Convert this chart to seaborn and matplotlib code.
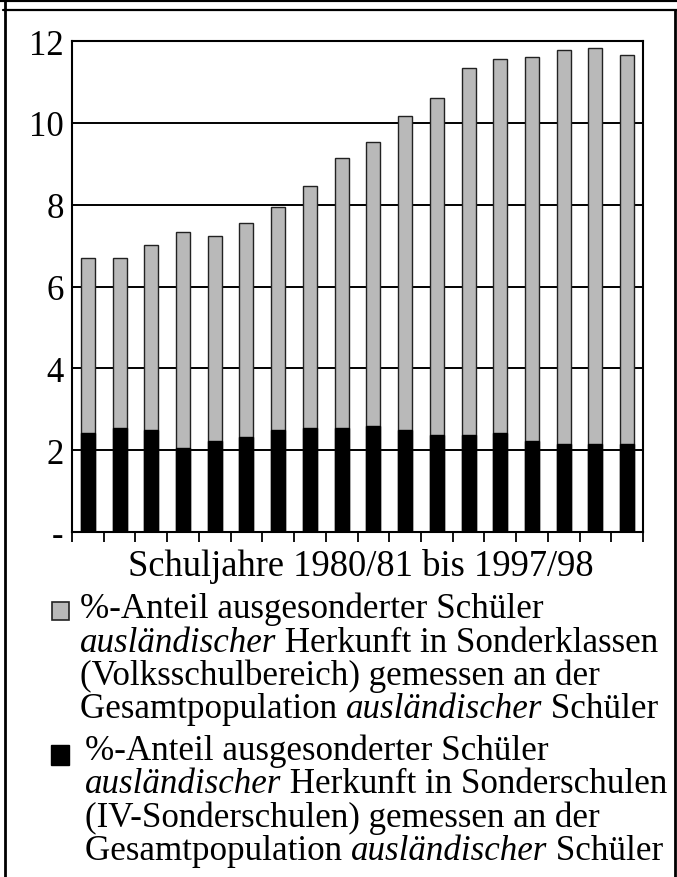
import numpy as np
import pandas as pd
import matplotlib
matplotlib.use("Agg")
import matplotlib.pyplot as plt
import seaborn as sns
from matplotlib.patches import Rectangle
from matplotlib.lines import Line2D

# ---- data ----
years = ["80/81", "81/82", "82/83", "83/84", "84/85", "85/86", "86/87", "87/88", "88/89",
         "89/90", "90/91", "91/92", "92/93", "93/94", "94/95", "95/96", "96/97", "97/98"]
sonderschulen = [2.43, 2.54, 2.49, 2.06, 2.22, 2.33, 2.49, 2.54, 2.54,
                 2.59, 2.49, 2.38, 2.38, 2.43, 2.22, 2.16, 2.16, 2.16]
sonderklassen = [4.27, 4.16, 4.53, 5.27, 5.01, 5.22, 5.45, 5.92, 6.61,
                 6.94, 7.68, 8.22, 8.97, 9.13, 9.39, 9.61, 9.67, 9.51]
ytick_vals = [0, 2, 4, 6, 8, 10, 12]
ytick_labels = ["-", "2", "4", "6", "8", "10", "12"]
xlabel = "Schuljahre 1980/81 bis 1997/98"
legend1 = [[("%-Anteil ausgesonderter Schüler", "normal")],
           [("ausländischer", "italic"), (" Herkunft in Sonderklassen", "normal")],
           [("(Volksschulbereich) gemessen an der", "normal")],
           [("Gesamtpopulation ", "normal"), ("ausländischer", "italic"), (" Schüler", "normal")]]
legend2 = [[("%-Anteil ausgesonderter Schüler", "normal")],
           [("ausländischer", "italic"), (" Herkunft in Sonderschulen", "normal")],
           [("(IV-Sonderschulen) gemessen an der", "normal")],
           [("Gesamtpopulation ", "normal"), ("ausländischer", "italic"), (" Schüler", "normal")]]

df = pd.DataFrame({"year": years, "black": sonderschulen, "gray": sonderklassen})
df["total"] = df["black"] + df["gray"]

sns.set_theme(style="white")
plt.rcParams["font.family"] = ["Liberation Serif", "DejaVu Serif"]

W, H = 677, 878
fig = plt.figure(figsize=(W / 100, H / 100), dpi=100)
fig.patch.set_facecolor("white")

ax = fig.add_axes([72 / W, 1 - 533 / H, (643 - 72) / W, (533 - 42) / H])

GRAY = "#b9b9b9"
sns.barplot(data=df, x="year", y="total", order=years, color=GRAY, saturation=1,
            edgecolor="#222222", linewidth=1.0, width=0.44, ax=ax, zorder=3)
sns.barplot(data=df, x="year", y="black", order=years, color="black", saturation=1,
            edgecolor="black", linewidth=1.0, width=0.44, ax=ax, zorder=4)

ax.set_xlim(-0.5, len(years) - 0.5)
ax.set_ylim(0, 12)
ax.set_xlabel("")
ax.set_ylabel("")
ax.set_xticks(np.arange(-0.5, len(years), 1.0))
ax.set_xticklabels([])
ax.tick_params(axis="x", bottom=True, direction="out", length=7, width=1.3, color="black")
ax.set_yticks(ytick_vals)
ax.set_yticklabels(ytick_labels)
ax.tick_params(axis="y", left=False, length=0, pad=6, labelsize=25, labelcolor="black")
ax.grid(axis="y", color="black", linewidth=1.4, zorder=1)
ax.grid(axis="x", visible=False)
ax.set_axisbelow(True)
for s in ax.spines.values():
    s.set_visible(True)
    s.set_color("black")
    s.set_linewidth(1.5)

# x-label
fig.text(361 / W, 1 - 576 / H, xlabel, ha="center", va="baseline", fontsize=26.3, color="black")

renderer = fig.canvas.get_renderer()

def draw_lines(lines, x0, baselines, size=25.2):
    for line, yb in zip(lines, baselines):
        x = x0
        for txt, style in line:
            t = fig.text(x / W, 1 - yb / H, txt, ha="left", va="baseline",
                         fontsize=size, style=style, color="black")
            bb = t.get_window_extent(renderer=renderer)
            x += bb.width

draw_lines(legend1, 80, [618, 652, 685, 718])
draw_lines(legend2, 85, [760, 793, 827, 860])

# legend squares
fig.add_artist(Rectangle((52 / W, 1 - 621 / H), 17 / W, 18 / H, transform=fig.transFigure,
                         facecolor=GRAY, edgecolor="#222222", linewidth=1.2))
fig.add_artist(Rectangle((51 / W, 1 - 766 / H), 18 / W, 20 / H, transform=fig.transFigure,
                         facecolor="black", edgecolor="black", linewidth=1.0))

# outer frame
def fline(xs, ys, lw):
    fig.add_artist(Line2D([x / W for x in xs], [1 - y / H for y in ys],
                          transform=fig.transFigure, color="black", linewidth=lw))

fline([0, W], [1, 1], 3)
fline([3, W], [11, 11], 1.6)
fline([4.5, 4.5], [0, H], 2)
fline([675, 675], [11, H], 2)

fig.savefig("out.png", dpi=100)
